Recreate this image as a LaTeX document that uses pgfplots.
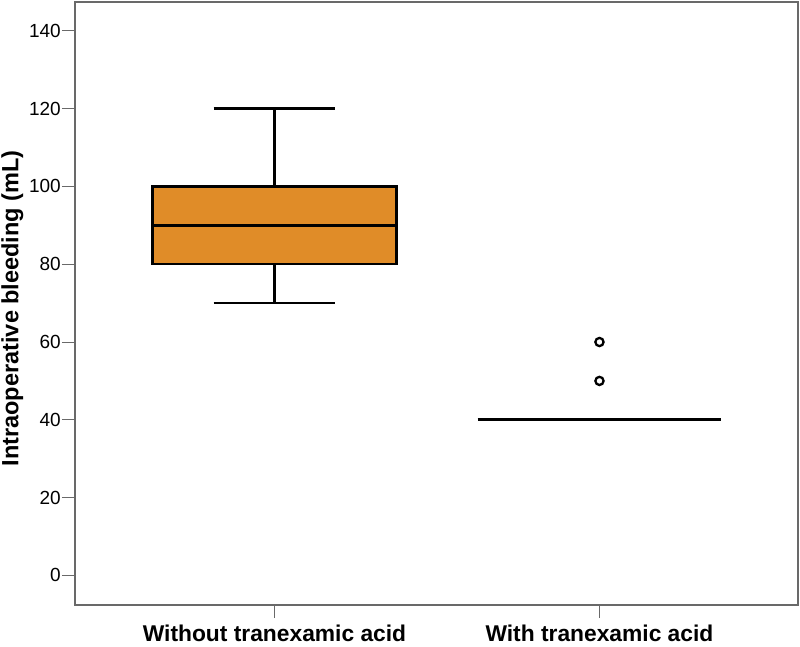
\documentclass[border=0pt]{standalone}
\usepackage{fontspec}
\setmainfont{Liberation Sans}
\usepackage{pgfplots}
\pgfplotsset{compat=1.18}
\definecolor{boxorange}{RGB}{224,140,40}
\definecolor{framegray}{RGB}{105,105,105}

\begin{document}
\begin{tikzpicture}
\begin{axis}[
    width=723pt, height=603pt, scale only axis,
    xmin=0.386, xmax=2.611,
    ymin=-7.6, ymax=147.4,
    xtick={1,2},
    xticklabels={Without tranexamic acid, With tranexamic acid},
    ytick={0,20,...,140},
    tick pos=left, tick align=outside,
    major tick length=13pt,
    tick style={framegray, line width=1pt},
    axis line style={framegray, line width=1.5pt},
    /pgf/number format/assume math mode=true,
    yticklabel style={font=\fontsize{19}{22}\selectfont, inner xsep=1pt},
    xticklabel style={font=\bfseries\fontsize{22.8}{26}\selectfont, yshift=-3pt},
    ylabel={Intraoperative bleeding (mL)},
    ylabel style={font=\bfseries\fontsize{23.5}{27}\selectfont,
        at={(axis description cs:-0.0865,0.492)}, anchor=center},
    cycle list={{black, mark=none, solid}},
    every axis plot/.append style={line width=2.5pt},
]
% without tranexamic acid: whiskers 70-120, box 80-100, median 90
\addplot[black, fill=boxorange] coordinates {(0.625,80) (1.375,80) (1.375,100) (0.625,100)} -- cycle;
\addplot coordinates {(0.625,90) (1.375,90)};
\addplot coordinates {(1,100) (1,120)};
\addplot coordinates {(1,80) (1,70)};
\addplot coordinates {(0.8125,120) (1.1875,120)};
\addplot coordinates {(0.8125,70) (1.1875,70)};
% with tranexamic acid: all quartiles at 40, outliers 50 and 60
\addplot[black, line width=2.9pt] coordinates {(1.625,40) (2.375,40)};
\addplot[black, only marks, mark=o, mark size=4.1pt, line width=2.3pt]
    coordinates {(2,50) (2,60)};
\end{axis}
\pgfresetboundingbox
\path ([xshift=-75pt,yshift=-41pt]current axis.south west)
    rectangle ([xshift=2pt,yshift=2pt]current axis.north east);
\end{tikzpicture}
\end{document}
